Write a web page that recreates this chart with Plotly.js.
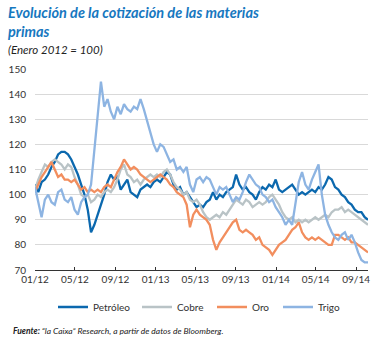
<!DOCTYPE html>
<html>
<head>
<meta charset="utf-8">
<script src="https://cdn.plot.ly/plotly-3.0.1.min.js"></script>
<style>html,body{margin:0;padding:0;background:#fff;}#chart{width:372px;height:338px;}</style>
</head>
<body>
<div id="chart"></div>
<script>
// Dates: one value every 10 days starting 1 Jan 2012
const startDate = '2012-01-01';
const stepDays = 10;

const seriesNames = ['Petróleo', 'Cobre', 'Oro', 'Trigo'];

const petroleo = [104,101,105,106,108,111,113,116,117,117,116,114,111,108,104,100,94,85,88,92,
  96,100,105,108,106,107,102,104,106,101,100,99,102,103,104,103,105,106,105,107,
  109,108,104,102,103,100,101,99,97,95,96,95,97,98,101,98,100,99,101,102,
  103,108,104,102,103,101,100,98,101,103,102,104,103,106,102,101,102,103,104,102,
  100,101,100,101,102,101,103,102,104,107,106,103,102,100,99,97,96,94,93,93,
  91,90];

const cobre = [102,106,109,112,111,113,114,113,112,110,112,111,107,104,100,99,100,97,98,100,
  99,101,102,101,103,106,110,112,108,107,105,106,104,106,107,108,107,108,107,109,
  110,108,105,103,102,100,101,98,97,98,96,93,91,90,91,92,91,93,92,94,
  96,98,97,96,98,97,95,96,97,96,97,99,100,98,96,93,91,90,91,89,
  90,89,90,89,90,91,90,91,92,91,93,94,94,95,93,94,93,92,91,90,
  89,88];

const oro = [101,104,107,109,111,113,110,107,108,106,106,105,106,104,102,103,101,102,101,102,
  101,103,104,103,106,109,111,114,112,110,111,110,108,107,106,105,106,107,108,107,
  106,104,103,101,100,99,96,87,92,94,92,91,90,88,82,78,81,83,85,87,
  89,90,86,85,86,85,84,82,83,80,79,78,76,78,80,81,82,84,86,87,
  89,85,83,82,83,82,83,82,81,80,80,84,84,83,82,83,81,81,80,79,
  78,77];

const trigo = [103,97,91,98,100,97,96,101,102,98,97,99,94,92,97,99,100,104,117,130,
  145,135,138,133,130,135,132,136,134,133,135,134,138,134,129,124,120,117,120,119,
  116,113,114,110,111,109,111,104,101,106,107,105,107,106,103,100,103,102,103,100,
  97,99,98,101,105,108,106,104,103,100,99,97,98,95,93,91,88,90,88,96,
  105,109,104,102,106,109,112,100,92,88,85,83,82,84,85,82,84,81,77,74,
  73,73];

const colors = ['#0b68ae', '#b9c3c6', '#f28e5e', '#8db4e2'];

function makeDates(n) {
  const out = [];
  const t0 = Date.parse(startDate + 'T00:00:00Z');
  for (let i = 0; i < n; i++) {
    out.push(new Date(t0 + i * stepDays * 86400000).toISOString().slice(0, 10));
  }
  return out;
}

const legendIds = ['legend', 'legend2', 'legend3', 'legend4'];
const allValues = [petroleo, cobre, oro, trigo];
const traces = allValues.map((vals, i) => ({
  type: 'scatter',
  mode: 'lines',
  name: seriesNames[i],
  legend: legendIds[i],
  x: makeDates(vals.length),
  y: vals,
  line: {color: colors[i], width: 2.3},
  hoverinfo: 'skip'
}));

const FONT = 'Lato, "Open Sans", sans-serif';
const PL = 35, PW = 333, PB = 270, PH = 201;
const px2x = p => (p - PL) / PW;
const py2y = p => (PB - p) / PH;

function legendAt(linePx) {
  return {
    orientation: 'h',
    x: px2x(linePx - 5), xanchor: 'left',
    y: py2y(307), yanchor: 'middle',
    font: {family: FONT, size: 10, color: '#333333'},
    bgcolor: 'rgba(0,0,0,0)',
    borderwidth: 0
  };
}

const layout = {
  width: 372,
  height: 338,
  margin: {l: PL, r: 372 - PL - PW, t: PB - PH, b: 338 - PB},
  paper_bgcolor: '#ffffff',
  plot_bgcolor: '#ffffff',
  font: {family: FONT, size: 10, color: '#333333'},
  showlegend: true,
  xaxis: {
    type: 'date',
    range: ['2012-01-01', '2014-10-07'],
    tickformat: '%m/%y',
    dtick: 'M4',
    tick0: '2012-01-01',
    ticks: 'inside',
    ticklen: 3,
    tickcolor: '#333333',
    showline: true,
    linecolor: '#333333',
    linewidth: 1,
    showgrid: false,
    zeroline: false,
    tickfont: {family: FONT, size: 10, color: '#333333'}
  },
  yaxis: {
    range: [70, 150],
    dtick: 10,
    tick0: 70,
    showline: false,
    ticks: '',
    showgrid: true,
    gridcolor: '#d9d9d9',
    gridwidth: 1,
    zeroline: false,
    ticklabelstandoff: 8,
    tickfont: {family: FONT, size: 10, color: '#333333'}
  },
  legend: legendAt(58),
  legend2: legendAt(142),
  legend3: legendAt(217),
  legend4: legendAt(283),
  annotations: [
    {
      text: '<b><i>Evolución de la cotización de las materias<br>primas</i></b>',
      xref: 'paper', yref: 'paper',
      x: px2x(7), y: py2y(3),
      xanchor: 'left', yanchor: 'top', align: 'left',
      showarrow: false, borderpad: 0,
      font: {family: FONT, size: 14.5, color: '#1778bf'}
    },
    {
      text: '<i>(Enero 2012 = 100)</i>',
      xref: 'paper', yref: 'paper',
      x: px2x(7), y: py2y(49),
      xanchor: 'left', yanchor: 'middle',
      showarrow: false, borderpad: 0,
      font: {family: FONT, size: 11.5, color: '#222222'}
    },
    {
      text: '<b><i>Fuente:</i></b><i> “la Caixa” Research, a partir de datos de Bloomberg.</i>',
      xref: 'paper', yref: 'paper',
      x: px2x(11), y: py2y(331),
      xanchor: 'left', yanchor: 'middle',
      showarrow: false,
      font: {family: FONT, size: 8.5, color: '#222222'}
    }
  ]
};

Plotly.newPlot('chart', traces, layout, {displayModeBar: false, staticPlot: true});
</script>
</body>
</html>
